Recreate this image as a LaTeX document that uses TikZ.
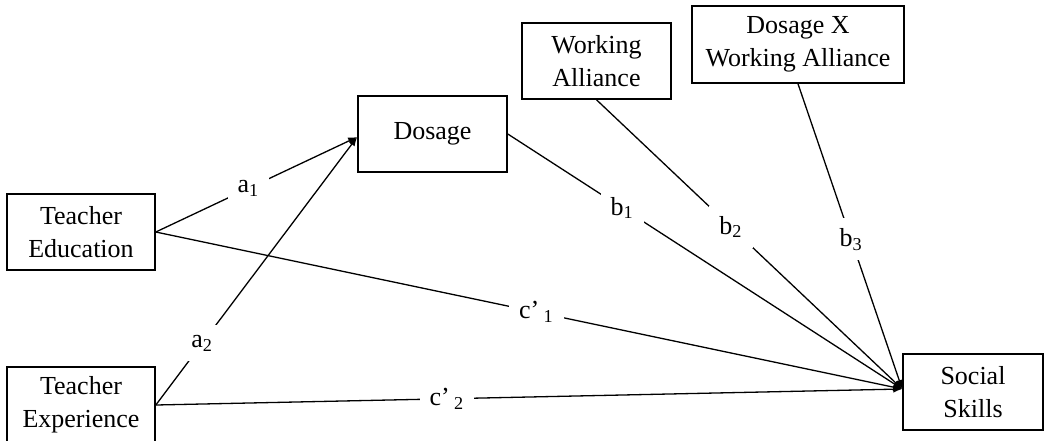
\documentclass[tikz,border=0pt]{standalone}
\usepackage{fontspec}
\setmainfont{Liberation Serif}
\usetikzlibrary{arrows.meta}
\tikzset{
  var/.style={draw, line width=0.8pt, align=center, minimum height=38pt,
    inner sep=2pt, font=\fontsize{13}{16.5}\selectfont},
  effect/.style={line width=0.65pt, -{Latex[length=4.5pt,width=3.6pt]}},
  coef/.style={fill=white, inner sep=5pt, font=\fontsize{13}{14}\selectfont}
}

\begin{document}
\begin{tikzpicture}[x=0.5pt,y=-0.5pt]
  \useasboundingbox (0,0) rectangle (1044,440);
  \node[var, minimum width=74pt] (edu) at (81,232) {Teacher\\Education};
  \node[var, minimum width=74pt] (exp) at (81,405) {Teacher\\Experience};
  \node[var, minimum width=74.5pt] (dos) at (432.5,134) {Dosage};
  \node[var, minimum width=74.5pt] (wa) at (596.5,61) {Working\\Alliance};
  \node[var, minimum width=106pt, minimum height=38.5pt] (dxwa) at (798,44.5) {Dosage X\\Working Alliance};
  \node[var, minimum width=70pt] (ss) at (973,392) {Social\\Skills};
  \coordinate (dosin) at ([yshift=-1.5pt]dos.west);
  \coordinate (ssin) at ([yshift=1.5pt]ss.west);
  \draw[effect] (edu.east) -- node[coef, pos=.46] {a\textsubscript{1}} (dosin);
  \draw[effect] (exp.east) -- node[coef, pos=.23] {a\textsubscript{2}} (dosin);
  \draw[effect] (dos.east) -- node[coef, pos=.29] {b\textsubscript{1}} (ssin);
  \draw[effect] (wa.south) -- node[coef, pos=.44] {b\textsubscript{2}} (ssin);
  \draw[effect] (dxwa.south) -- node[coef, pos=.51] {b\textsubscript{3}} (ssin);
  \draw[effect] (edu.east) -- node[coef, pos=.51] {c’\,\textsubscript{1}} (ssin);
  \draw[effect] (exp.east) -- node[coef, pos=.39] {c’\,\textsubscript{2}} (ssin);
\end{tikzpicture}
\end{document}
